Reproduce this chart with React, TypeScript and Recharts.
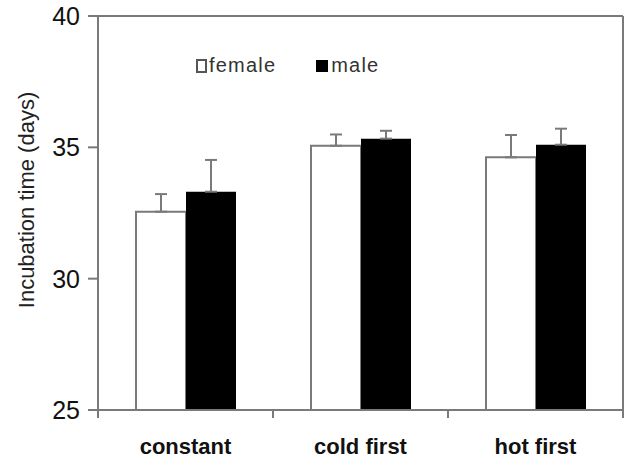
import React from 'react';
import {
  BarChart,
  Bar,
  XAxis,
  YAxis,
  ErrorBar,
  ReferenceLine,
  Legend,
} from 'recharts';

const categories = ['constant', 'cold first', 'hot first'];
const femaleValues = [32.55, 35.06, 34.62];
const maleValues = [33.31, 35.33, 35.1];
const femaleErrors = [0.67, 0.43, 0.85];
const maleErrors = [1.21, 0.3, 0.61];
const yTicks = [25, 30, 35, 40];

const data = categories.map((c, i) => ({
  name: c,
  female: femaleValues[i],
  male: maleValues[i],
  femaleErr: [0, femaleErrors[i]],
  maleErr: [0, maleErrors[i]],
}));

const GRAY = '#7a7a7a';
const FONT = '"Liberation Sans", Arial, sans-serif';
const X_TICK_MARGIN = 28;
const BOUNDARY_TICK = 8;

const LegendContent = () => (
  <div
    style={{
      display: 'flex',
      alignItems: 'center',
      fontFamily: FONT,
      fontSize: 20,
      letterSpacing: 1.2,
      color: '#333',
      whiteSpace: 'nowrap',
    }}
  >
    <span
      style={{
        display: 'inline-block',
        width: 7,
        height: 10,
        border: '2px solid #555',
        background: '#fff',
        marginRight: 2,
      }}
    />
    <span style={{ marginRight: 40 }}>female</span>
    <span
      style={{
        display: 'inline-block',
        width: 12,
        height: 12,
        background: '#000',
        marginRight: 3,
      }}
    />
    <span>male</span>
  </div>
);

const YLabel = (props: any) => {
  const vb = props.viewBox || {};
  const x = (vb.x ?? 0) + 26;
  const y = (vb.y ?? 0) + (vb.height ?? 0) / 2 - 13;
  return (
    <text
      x={x}
      y={y}
      transform={`rotate(-90, ${x}, ${y})`}
      textAnchor="middle"
      dominantBaseline="central"
      fontFamily={FONT}
      fontSize={22}
      fill="#222"
    >
      Incubation time (days)
    </text>
  );
};

const CategoryTick = (props: any) => {
  const { x, y, payload, index, visibleTicksCount } = props;
  const half = payload && typeof payload.offset === 'number' ? payload.offset : 87.5;
  const axisY = y - X_TICK_MARGIN;
  const isLast = typeof visibleTicksCount === 'number' ? index === visibleTicksCount - 1 : index === categories.length - 1;
  return (
    <g>
      <line
        x1={x - half}
        x2={x - half}
        y1={axisY}
        y2={axisY + BOUNDARY_TICK}
        stroke={GRAY}
        strokeWidth={2}
      />
      {isLast && (
        <line
          x1={x + half}
          x2={x + half}
          y1={axisY}
          y2={axisY + BOUNDARY_TICK}
          stroke={GRAY}
          strokeWidth={2}
        />
      )}
      <text
        x={x}
        y={y}
        dy="0.71em"
        textAnchor="middle"
        fontFamily={FONT}
        fontSize={22}
        fontWeight={600}
        fill="#111"
      >
        {payload.value}
      </text>
    </g>
  );
};

export default function App() {
  return (
    <div style={{ width: 625, height: 458 }}>
      <style>{'body{margin:0}'}</style>
      <BarChart
        width={625}
        height={458}
        data={data}
        margin={{ top: 16, right: 0, bottom: 0, left: 0 }}
        barGap={0}
        barSize={50}
      >
        <XAxis
          dataKey="name"
          height={48}
          axisLine={{ stroke: GRAY, strokeWidth: 2 }}
          tickLine={false}
          tickSize={0}
          tickMargin={X_TICK_MARGIN}
          interval={0}
          tick={<CategoryTick />}
        />
        <YAxis
          domain={[25, 40]}
          ticks={yTicks}
          width={98}
          tickSize={10}
          tickMargin={8}
          axisLine={{ stroke: GRAY, strokeWidth: 2 }}
          tickLine={{ stroke: GRAY, strokeWidth: 2 }}
          tick={{ fontFamily: FONT, fontSize: 25, fill: '#111' }}
          label={<YLabel />}
        />
        <YAxis
          yAxisId="right"
          orientation="right"
          domain={[25, 40]}
          width={2}
          tick={false}
          tickLine={false}
          axisLine={{ stroke: GRAY, strokeWidth: 2 }}
        />
        <ReferenceLine y={40} stroke={GRAY} strokeWidth={2} />
        <Legend
          layout="horizontal"
          verticalAlign="middle"
          align="center"
          content={<LegendContent />}
          wrapperStyle={{ position: 'absolute', top: 54, left: 196, width: 270, height: 26 }}
        />
        <Bar
          dataKey="female"
          fill="#ffffff"
          stroke={GRAY}
          strokeWidth={2}
          isAnimationActive={false}
        >
          <ErrorBar dataKey="femaleErr" width={6} stroke={GRAY} strokeWidth={2} />
        </Bar>
        <Bar dataKey="male" fill="#000000" isAnimationActive={false}>
          <ErrorBar dataKey="maleErr" width={6} stroke={GRAY} strokeWidth={2} />
        </Bar>
      </BarChart>
    </div>
  );
}
